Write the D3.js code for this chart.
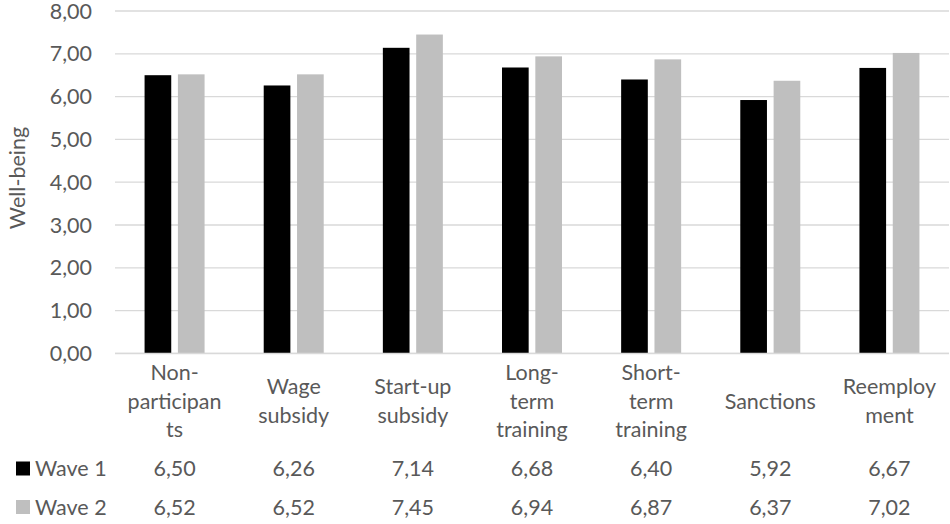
<!DOCTYPE html>
<html>
<head>
<meta charset="utf-8">
<script src="https://cdn.jsdelivr.net/npm/d3@7"></script>
<style>
  html, body { margin: 0; padding: 0; background: #fff; }
  svg { display: block; }
  text { font-family: Lato, "Open Sans", sans-serif; fill: #595959; }
</style>
</head>
<body>
<svg id="chart" width="950" height="524"></svg>
<script>
// ---- data ----
const categories = ["Non-participants", "Wage subsidy", "Start-up subsidy", "Long-term training", "Short-term training", "Sanctions", "Reemployment"];
const categoryLines = [["Non-", "participan", "ts"], ["Wage", "subsidy"], ["Start-up", "subsidy"], ["Long-", "term", "training"], ["Short-", "term", "training"], ["Sanctions"], ["Reemploy", "ment"]];
const seriesNames = ["Wave 1", "Wave 2"];
const wave1 = [6.50, 6.26, 7.14, 6.68, 6.40, 5.92, 6.67];
const wave2 = [6.52, 6.52, 7.45, 6.94, 6.87, 6.37, 7.02];
const seriesColors = ["#000000", "#bfbfbf"];
const yTicks = [0, 1, 2, 3, 4, 5, 6, 7, 8];
const yTitle = "Well-being";

const seriesValues = [wave1, wave2];
const fmt = v => d3.format(".2f")(v).replace(".", ",");

const svg = d3.select("#chart");
const fontSize = 21.5;

const plotLeft = 115, plotRight = 949, plotTop = 11, plotBottom = 353.4;

const x0 = d3.scaleBand().domain(categories).range([plotLeft, plotRight]).padding(0);
const groupW = 60;
const x1 = d3.scaleBand().domain(seriesNames)
  .range([x0.bandwidth() / 2 - groupW / 2, x0.bandwidth() / 2 + groupW / 2])
  .paddingInner(0.2).paddingOuter(0);
const y = d3.scaleLinear().domain([0, 8]).range([plotBottom, plotTop]);

// gridlines
svg.append("g")
  .selectAll("line").data(yTicks).join("line")
  .attr("x1", plotLeft).attr("x2", plotRight)
  .attr("y1", d => y(d)).attr("y2", d => y(d))
  .attr("stroke", "#d9d9d9").attr("stroke-width", 1.3);

// y tick labels
svg.append("g")
  .selectAll("text").data(yTicks).join("text")
  .attr("x", 92).attr("y", d => y(d))
  .attr("dy", "0.35em")
  .attr("text-anchor", "end")
  .style("font-size", fontSize + "px")
  .text(d => fmt(d));

// y title
svg.append("text")
  .attr("transform", `translate(17,178) rotate(-90)`)
  .attr("dy", "0.35em")
  .attr("text-anchor", "middle")
  .style("font-size", fontSize + "px")
  .text(yTitle);

// bars
const groups = svg.append("g").selectAll("g").data(categories).join("g")
  .attr("transform", d => `translate(${x0(d)},0)`);
groups.selectAll("rect")
  .data((d, i) => seriesNames.map((s, j) => ({ s, v: seriesValues[j][i], c: seriesColors[j] })))
  .join("rect")
  .attr("x", d => x1(d.s))
  .attr("width", x1.bandwidth())
  .attr("y", d => y(d.v))
  .attr("height", d => y(0) - y(d.v))
  .attr("fill", d => d.c);

// baseline
svg.append("line")
  .attr("x1", plotLeft).attr("x2", plotRight)
  .attr("y1", y(0)).attr("y2", y(0))
  .attr("stroke", "#d9d9d9").attr("stroke-width", 1.5);

// category labels
const lineH = 28.5, labelCenter = 401;
const cl = svg.append("g").selectAll("text").data(categories).join("text")
  .attr("text-anchor", "middle")
  .style("font-size", fontSize + "px");
cl.each(function (d, i) {
  const lines = categoryLines[i];
  const n = lines.length;
  d3.select(this).selectAll("tspan").data(lines).join("tspan")
    .attr("x", x0(d) + x0.bandwidth() / 2)
    .attr("y", (l, k) => labelCenter + (k - (n - 1) / 2) * lineH)
    .attr("dy", "0.35em")
    .text(l => l);
});

// data table
const rowY = [468.5, 507];
seriesNames.forEach((s, j) => {
  svg.append("rect")
    .attr("x", 16).attr("y", rowY[j] - 7)
    .attr("width", 14).attr("height", 14)
    .attr("fill", seriesColors[j]);
  svg.append("text")
    .attr("x", 35).attr("y", rowY[j]).attr("dy", "0.35em")
    .style("font-size", fontSize + "px")
    .text(s);
  svg.append("g").selectAll("text").data(categories).join("text")
    .attr("x", d => x0(d) + x0.bandwidth() / 2)
    .attr("y", rowY[j]).attr("dy", "0.35em")
    .attr("text-anchor", "middle")
    .style("font-size", fontSize + "px")
    .text((d, i) => fmt(seriesValues[j][i]));
});
</script>
</body>
</html>
